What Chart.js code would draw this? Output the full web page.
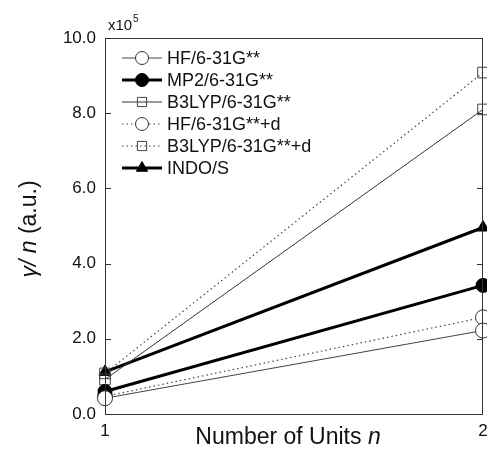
<!DOCTYPE html>
<html lang="en">
<head>
    <meta charset="UTF-8">
    <title>gamma / n vs Number of Units</title>
    <script src="https://cdn.jsdelivr.net/npm/chart.js"></script>
    <style>
        html, body { margin: 0; padding: 0; background: #fff; }
        #wrap { width: 487px; height: 454px; }
    </style>
</head>
<body>
    <div id="wrap"><canvas id="gammaChart" width="487" height="454"></canvas></div>

    <script>
        const units = [1, 2];
        const hf = [0.42, 2.22];
        const mp2 = [0.60, 3.42];
        const b3lyp = [0.92, 8.10];
        const hfD = [0.47, 2.57];
        const b3lypD = [1.08, 9.08];
        const indo = [1.12, 4.96];
        const yTicks = [0, 2, 4, 6, 8, 10];

        const FONT = '"Liberation Sans", Arial, sans-serif';

        function pts(vals) {
            return units.map((u, i) => ({ x: u, y: vals[i] }));
        }

        // frame, inner ticks, axis titles, multiplier and legend inside the plot
        const decor = {
            id: 'decor',
            afterDraw(chart) {
                const ctx = chart.ctx;
                const a = chart.chartArea;
                const ys = chart.scales.y;
                ctx.save();
                ctx.strokeStyle = '#333';
                ctx.lineWidth = 1;
                ctx.setLineDash([]);
                ctx.strokeRect(a.left + 0.5, a.top + 0.5, a.right - a.left - 1, a.bottom - a.top);
                yTicks.forEach(v => {
                    const y = Math.round(ys.getPixelForValue(v)) + 0.5;
                    ctx.beginPath();
                    ctx.moveTo(a.left, y); ctx.lineTo(a.left + 6, y);
                    ctx.moveTo(a.right, y); ctx.lineTo(a.right - 6, y);
                    ctx.stroke();
                });

                ctx.fillStyle = '#111';
                // multiplier
                ctx.font = '15px ' + FONT;
                ctx.textBaseline = 'alphabetic';
                ctx.textAlign = 'left';
                ctx.fillText('x10', a.left + 3, a.top - 8);
                ctx.font = '10px ' + FONT;
                ctx.fillText('5', a.left + 28, a.top - 16);

                // x title
                const t1 = 'Number of Units ';
                ctx.font = '23px ' + FONT;
                const w1 = ctx.measureText(t1).width;
                ctx.font = 'italic 23px ' + FONT;
                const w2 = ctx.measureText('n').width;
                let sx = 288 - (w1 + w2) / 2;
                ctx.textBaseline = 'middle';
                ctx.font = '23px ' + FONT;
                ctx.fillText(t1, sx, 438);
                ctx.font = 'italic 23px ' + FONT;
                ctx.fillText('n', sx + w1, 438);

                // y title
                ctx.translate(30, 229);
                ctx.rotate(-Math.PI / 2);
                const parts = [['γ/ ', 'italic '], ['n', 'italic '], [' (a.u.)', '']];
                let total = 0;
                parts.forEach(p => { ctx.font = p[1] + '23px ' + FONT; total += ctx.measureText(p[0]).width; });
                let px = -total / 2;
                parts.forEach(p => {
                    ctx.font = p[1] + '23px ' + FONT;
                    ctx.fillText(p[0], px, 0);
                    px += ctx.measureText(p[0]).width;
                });
                ctx.restore();

                // legend
                ctx.save();
                const lx0 = a.left + 17, lx1 = a.left + 57, tx = a.left + 62;
                chart.data.datasets.forEach((ds, i) => {
                    const y = a.top + 20 + i * 22;
                    ctx.strokeStyle = ds.borderColor;
                    ctx.lineWidth = ds.borderWidth;
                    ctx.setLineDash(ds.borderDash || []);
                    ctx.beginPath();
                    ctx.moveTo(lx0, y); ctx.lineTo(lx1, y);
                    ctx.stroke();
                    ctx.setLineDash([]);
                    ctx.fillStyle = ds.pointBackgroundColor;
                    ctx.strokeStyle = ds.pointBorderColor;
                    ctx.lineWidth = 1;
                    Chart.helpers.drawPoint(ctx, {
                        pointStyle: ds.pointStyle,
                        radius: 6.5,
                        rotation: 0,
                        borderWidth: 1
                    }, (lx0 + lx1) / 2, y);
                    ctx.fillStyle = '#111';
                    ctx.font = '18px ' + FONT;
                    ctx.textAlign = 'left';
                    ctx.textBaseline = 'middle';
                    ctx.fillText(ds.label, tx, y + 1);
                });
                ctx.restore();
            }
        };

        const ctx = document.getElementById('gammaChart').getContext('2d');
        new Chart(ctx, {
            type: 'line',
            data: {
                datasets: [
                    {
                        label: 'HF/6-31G**',
                        data: pts(hf),
                        borderColor: '#444', borderWidth: 1,
                        pointStyle: 'circle', pointRadius: 7.5,
                        pointBackgroundColor: '#fff', pointBorderColor: '#333', pointBorderWidth: 1
                    },
                    {
                        label: 'MP2/6-31G**',
                        data: pts(mp2),
                        borderColor: '#000', borderWidth: 3,
                        pointStyle: 'circle', pointRadius: 7,
                        pointBackgroundColor: '#000', pointBorderColor: '#000', pointBorderWidth: 1
                    },
                    {
                        label: 'B3LYP/6-31G**',
                        data: pts(b3lyp),
                        borderColor: '#333', borderWidth: 1,
                        pointStyle: 'rect', pointRadius: 7.5,
                        pointBackgroundColor: 'rgba(255,255,255,0)', pointBorderColor: '#444', pointBorderWidth: 1
                    },
                    {
                        label: 'HF/6-31G**+d',
                        data: pts(hfD),
                        borderColor: '#444', borderWidth: 1.2, borderDash: [1.5, 3],
                        pointStyle: 'circle', pointRadius: 7.5,
                        pointBackgroundColor: '#fff', pointBorderColor: '#333', pointBorderWidth: 1
                    },
                    {
                        label: 'B3LYP/6-31G**+d',
                        data: pts(b3lypD),
                        borderColor: '#444', borderWidth: 1.2, borderDash: [1.5, 3],
                        pointStyle: 'rect', pointRadius: 7.5,
                        pointBackgroundColor: 'rgba(255,255,255,0)', pointBorderColor: '#444', pointBorderWidth: 1
                    },
                    {
                        label: 'INDO/S',
                        data: pts(indo),
                        borderColor: '#000', borderWidth: 3,
                        pointStyle: 'triangle', pointRadius: 7,
                        pointBackgroundColor: '#000', pointBorderColor: '#000', pointBorderWidth: 1
                    }
                ]
            },
            options: {
                responsive: false,
                animation: false,
                layout: { autoPadding: false, padding: { top: 38, right: 4, left: 0, bottom: 0 } },
                plugins: {
                    legend: { display: false },
                    tooltip: { enabled: false }
                },
                elements: { line: { tension: 0 } },
                datasets: { line: { clip: false } },
                scales: {
                    x: {
                        type: 'linear', min: 1, max: 2,
                        afterBuildTicks(s) { s.ticks = units.map(v => ({ value: v })); },
                        afterFit(s) { s.height = 40; s.paddingLeft = 0; s.paddingRight = 0; },
                        grid: { display: false, drawTicks: false },
                        border: { display: false },
                        ticks: {
                            color: '#111', padding: 7,
                            font: { family: FONT, size: 17 },
                            maxRotation: 0
                        }
                    },
                    y: {
                        min: 0, max: 10,
                        afterBuildTicks(s) { s.ticks = yTicks.map(v => ({ value: v })); },
                        afterFit(s) { s.width = 105; s.paddingTop = 0; s.paddingBottom = 0; },
                        grid: { display: false, drawTicks: false },
                        border: { display: false },
                        ticks: {
                            color: '#111', padding: 9,
                            font: { family: FONT, size: 17 },
                            callback: v => v.toFixed(1)
                        }
                    }
                }
            },
            plugins: [decor]
        });
    </script>
</body>
</html>
